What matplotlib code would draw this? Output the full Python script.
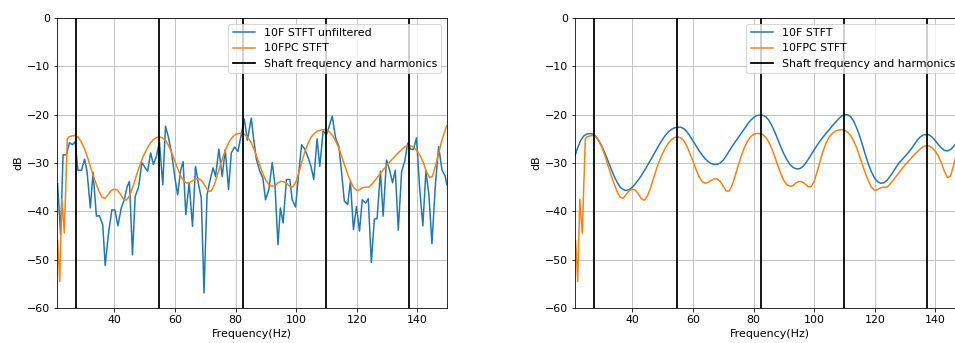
import matplotlib.pyplot as plt

# Shaft frequency and its harmonics (Hz)
shaft_freq = 27.45
harmonics = [1, 2, 3, 4, 5]

# 10F STFT unfiltered (left panel)
raw_f = [21.3, 22.3, 23.1, 24.2, 25.2, 26.2, 27.1, 28.0, 29.2, 30.2, 31.0, 32.1, 33.0, 34.1,
         35.1, 36.2, 37.0, 38.1, 39.2, 40.2, 41.2, 42.3, 43.3, 44.2, 45.0, 46.0, 46.9, 48.0,
         49.1, 50.2, 51.0, 52.0, 52.9, 53.8, 54.9, 56.0, 56.9, 57.8, 58.9, 60.0, 60.9, 61.9,
         62.7, 63.6, 64.7, 65.8, 66.8, 67.9, 68.7, 69.6, 70.6, 71.5, 72.6, 73.4, 74.5, 75.6,
         76.6, 77.7, 78.6, 79.7, 80.8, 81.9, 82.9, 83.9, 85.2, 86.0, 86.9, 88.0, 89.0, 89.9,
         91.0, 92.1, 93.0, 94.0, 94.8, 95.7, 96.8, 97.9, 98.7, 99.8, 100.9, 101.8, 102.9,
         104.0, 104.9, 105.8, 106.9, 107.8, 108.9, 110.0, 110.9, 111.9, 113.0, 114.1, 114.9,
         115.9, 117.0, 117.9, 118.9, 119.9, 120.9, 121.8, 122.9, 123.8, 124.8, 125.8, 126.7,
         127.8, 128.7, 129.8, 130.8, 131.8, 132.7, 133.7, 134.8, 135.8, 136.8, 137.7, 138.7,
         139.7, 140.7, 141.8, 142.8, 143.8, 144.8, 145.9, 147.0, 148.1, 149.2, 149.7]
raw_db = [-34.3, -44.8, -28.3, -28.3, -25.8, -26.2, -25.6, -31.5, -31.5, -29.2, -31.7, -39.3,
          -31.9, -41.0, -40.9, -42.8, -51.2, -44.5, -39.7, -39.7, -43.0, -39.3, -37.6, -35.0,
          -33.8, -49.0, -36.9, -35.0, -29.9, -31.0, -31.7, -27.9, -30.3, -28.8, -25.7, -34.5,
          -22.4, -24.5, -27.9, -33.1, -36.6, -31.5, -29.7, -40.7, -34.1, -43.1, -30.7, -34.8,
          -37.2, -56.9, -36.6, -33.8, -31.0, -32.8, -27.1, -32.8, -27.2, -35.5, -27.9, -26.7,
          -27.6, -24.1, -20.9, -25.3, -20.7, -25.2, -29.3, -31.7, -33.1, -37.6, -35.5, -29.9,
          -34.5, -46.9, -39.3, -42.4, -33.4, -33.4, -37.6, -39.1, -31.7, -26.2, -27.2, -29.0,
          -30.7, -33.4, -25.0, -30.7, -23.4, -24.1, -22.4, -20.3, -24.8, -26.6, -31.4, -37.9,
          -38.6, -33.8, -43.8, -39.0, -44.1, -37.6, -38.3, -37.4, -50.6, -41.6, -41.5, -31.7,
          -41.0, -29.4, -31.4, -34.1, -31.5, -43.9, -31.7, -29.7, -25.9, -27.1, -27.2, -24.8,
          -34.8, -43.0, -31.7, -36.6, -46.7, -34.8, -26.6, -31.4, -32.8, -34.5]

# 10FPC STFT (both panels)
pc_f = [21.3, 22.0, 22.7, 23.5, 24.5, 25, 26, 27, 28, 29, 30, 31, 32, 33, 34, 35, 36, 37, 38,
        39, 40, 41, 42, 43, 44, 45, 46, 47, 48, 49, 50, 51, 52, 53, 54, 55, 56, 57, 58, 59,
        60, 61, 62, 63, 64, 65, 66, 67, 68, 69, 70, 71, 72, 73, 74, 75, 76, 77, 78, 79, 80,
        81, 82, 83, 84, 85, 86, 87, 88, 89, 90, 91, 92, 93, 94, 95, 96, 97, 98, 99, 100,
        101, 102, 103, 104, 105, 106, 107, 108, 109, 110, 111, 112, 113, 114, 115, 116, 117,
        118, 119, 120, 121, 122, 123, 124, 125, 126, 127, 128, 129, 130, 131, 132, 133, 134,
        135, 136, 137, 138, 139, 140, 141, 142, 143, 144, 145, 146, 147, 148, 149, 149.7]
pc_db = [-46.0, -54.5, -37.5, -44.5, -25.0, -24.6, -24.4, -24.3, -24.6, -25.5, -26.8, -28.5,
         -30.5, -32.5, -34.3, -35.9, -37.1, -37.3, -36.5, -35.7, -35.4, -35.6, -36.4, -37.4,
         -37.7, -36.8, -35.2, -33.2, -31.2, -29.5, -28.0, -26.8, -25.8, -25.1, -24.7, -24.6,
         -24.8, -25.4, -26.5, -28.0, -29.6, -31.3, -32.8, -33.8, -34.2, -34.0, -33.6, -33.3,
         -33.3, -33.8, -34.8, -35.8, -35.8, -34.5, -32.5, -30.4, -28.5, -26.8, -25.5, -24.6,
         -24.1, -23.9, -23.9, -24.1, -24.7, -25.6, -27.0, -28.7, -30.5, -32.2, -33.6, -34.5,
         -34.8, -34.7, -34.1, -33.8, -33.9, -34.3, -34.9, -34.9, -33.8, -31.8, -29.5, -27.4,
         -25.8, -24.6, -23.9, -23.4, -23.2, -23.1, -23.2, -23.6, -24.3, -25.4, -26.8, -28.6,
         -30.5, -32.3, -33.9, -35.1, -35.7, -35.5, -35.1, -35.0, -35.0, -34.4, -33.6, -32.8,
         -32.0, -31.2, -30.4, -29.7, -29.0, -28.3, -27.7, -27.1, -26.6, -26.4, -26.5, -26.9,
         -27.6, -28.6, -30.0, -31.8, -33.0, -32.7, -30.5, -28.0, -25.5, -23.5, -22.3]

# 10F STFT (right panel)
stft_f = [21.1] + list(range(22, 151))
stft_db = [-28.5, -26.8, -25.3, -24.4, -24.0, -23.9, -24.0, -24.5, -25.4, -26.6, -28.0, -29.6,
           -31.2, -32.7, -34.0, -35.0, -35.5, -35.7, -35.5, -35.0, -34.3, -33.5, -32.6, -31.6,
           -30.5, -29.4, -28.3, -27.2, -26.1, -25.1, -24.2, -23.5, -23.0, -22.7, -22.6, -22.6,
           -22.9, -23.5, -24.4, -25.4, -26.4, -27.4, -28.3, -29.1, -29.7, -30.1, -30.3, -30.3,
           -30.0, -29.4, -28.5, -27.5, -26.5, -25.6, -24.7, -23.8, -22.9, -22.0, -21.2, -20.6,
           -20.2, -20.1, -20.1, -20.4, -21.1, -22.2, -23.6, -25.1, -26.7, -28.1, -29.3, -30.3,
           -30.9, -31.2, -31.2, -30.9, -30.2, -29.3, -28.3, -27.3, -26.3, -25.4, -24.6, -23.8,
           -23.1, -22.3, -21.6, -20.9, -20.3, -20.0, -20.0, -20.4, -21.3, -22.7, -24.4, -26.4,
           -28.5, -30.4, -32.0, -33.2, -33.9, -34.2, -34.1, -33.6, -32.8, -31.9, -30.9, -30.0,
           -29.3, -28.6, -27.9, -27.1, -26.2, -25.3, -24.6, -24.2, -24.1, -24.2, -24.7, -25.4,
           -26.2, -26.9, -27.4, -27.5, -27.2, -26.6, -25.8, -25.0, -24.5, -24.0]

plt.rcParams['font.size'] = 11
plt.rcParams['grid.color'] = '#c4c4c4'
plt.rcParams['grid.linewidth'] = 1.0

W, H = 955, 343
fig = plt.figure(figsize=(W / 72, H / 72), dpi=72)

# the right panel runs past the figure edge, as in the reference
ax1 = fig.add_axes([57.3 / W, 35 / H, 389.5 / W, 290 / H])
ax2 = fig.add_axes([575.3 / W, 35 / H, 389.5 / W, 290 / H])

panels = [(ax1, raw_f, raw_db, '10F STFT unfiltered'),
          (ax2, stft_f, stft_db, '10F STFT')]

for ax, f, db, lab in panels:
    ax.plot(f, db, color='tab:blue', label=lab)
    ax.plot(pc_f, pc_db, color='tab:orange', label='10FPC STFT')
    for k in harmonics:
        ax.axvline(k * shaft_freq, color='black', linewidth=1.8,
                   label='Shaft frequency and harmonics' if k == 1 else None)
    ax.set_xlim(21.2, 149.7)
    ax.set_ylim(-60, 0)
    ax.set_xticks([40, 60, 80, 100, 120, 140])
    ax.grid(True)
    ax.set_xlabel('Frequency(Hz)')
    ax.set_ylabel('dB')
    ax.legend(loc='upper right')

fig.savefig('out.png', dpi=72)
